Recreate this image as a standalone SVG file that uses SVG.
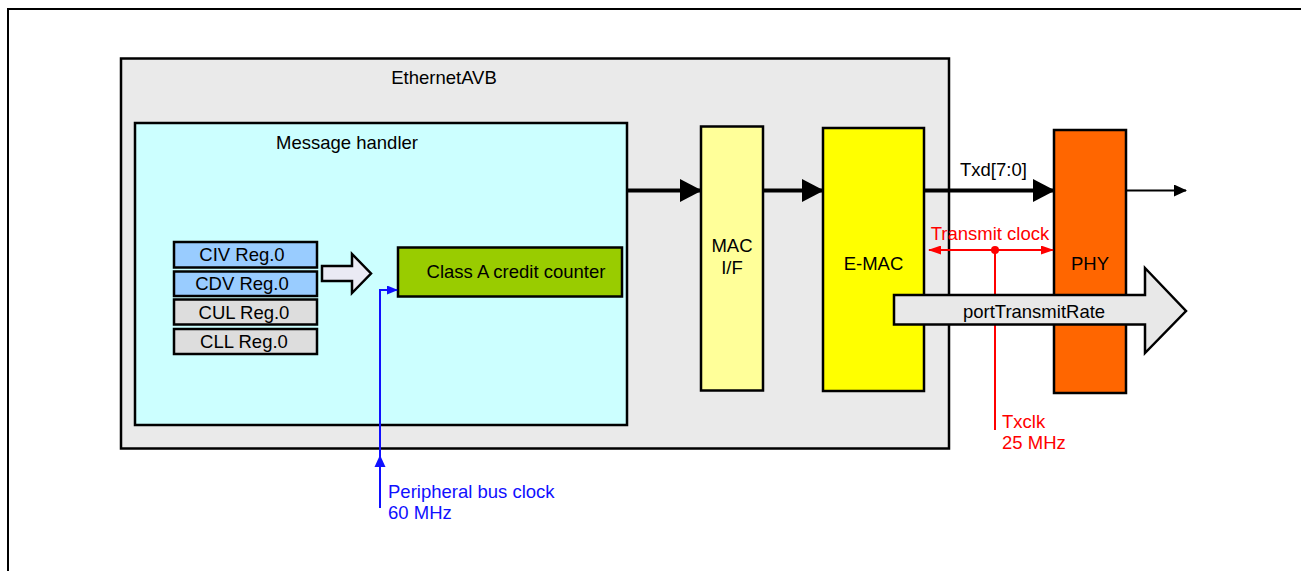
<svg xmlns="http://www.w3.org/2000/svg" width="1301" height="571" viewBox="0 0 1301 571">
<style>
text{font-family:"Liberation Sans",Arial,sans-serif;font-size:18.5px;fill:#000}
.box{stroke:#000;stroke-width:2.5}
.reg{stroke:#000;stroke-width:2.5}
.red{fill:#FF0000}
.blue{fill:#1010FF}
.c{text-anchor:middle}
</style>
<defs>
<marker id="bigArrow" markerWidth="22" markerHeight="23" refX="21" refY="11.5" orient="auto" markerUnits="userSpaceOnUse"><path d="M0,0 L22,11.5 L0,23 Z" fill="#000"/></marker>
<marker id="smallArrow" markerWidth="13" markerHeight="12" refX="12" refY="6" orient="auto" markerUnits="userSpaceOnUse"><path d="M0,0 L13,6 L0,12 Z" fill="#000"/></marker>
<marker id="redArrow" markerWidth="13" markerHeight="9" refX="12" refY="4.5" orient="auto-start-reverse" markerUnits="userSpaceOnUse"><path d="M0,0 L13,4.5 L0,9 Z" fill="#FF0000"/></marker>
<marker id="blueArrow" markerWidth="11" markerHeight="9" refX="10" refY="4.5" orient="auto" markerUnits="userSpaceOnUse"><path d="M0,0 L11,4.5 L0,9 Z" fill="#1010FF"/></marker>
</defs>
<rect width="1301" height="571" fill="#fff"/>
<path d="M8,571 V9 H1301" fill="none" stroke="#000" stroke-width="2"/>

<g id="ethernetavb">
<rect class="box" x="121" y="58.5" width="828" height="390" fill="#EAEAEA"/>
<text class="c" x="444" y="84">EthernetAVB</text>
</g>

<g id="message-handler">
<rect class="box" x="135" y="123" width="492" height="302" fill="#CCFFFF"/>
<text class="c" x="347" y="149">Message handler</text>
</g>

<g id="civ-reg"><rect class="reg" x="174" y="242" width="143" height="25.5" fill="#99CCFF"/><text class="c" x="242" y="261">CIV Reg.0</text></g>
<g id="cdv-reg"><rect class="reg" x="174" y="271.5" width="143" height="24.5" fill="#99CCFF"/><text class="c" x="242" y="290">CDV Reg.0</text></g>
<g id="cul-reg"><rect class="reg" x="174" y="299.5" width="143" height="25" fill="#DDDDDD"/><text class="c" x="244" y="318.5">CUL Reg.0</text></g>
<g id="cll-reg"><rect class="reg" x="174" y="329" width="143" height="25" fill="#DDDDDD"/><text class="c" x="244" y="347.5">CLL Reg.0</text></g>

<g id="reg-arrow">
<path d="M322,266 H352 V254 L371,273.5 L352,293 V281 H322 Z" fill="#EAEAF4" stroke="#000" stroke-width="2.5" stroke-linejoin="miter"/>
</g>

<g id="credit-counter">
<rect class="box" x="398" y="247.5" width="224" height="49" fill="#99CC00"/>
<text class="c" x="516" y="278">Class A credit counter</text>
</g>

<g id="mac-if">
<rect class="box" x="701" y="126.5" width="62" height="264" fill="#FFFF99"/>
<text class="c" x="732" y="252">MAC</text>
<text class="c" x="732" y="274">I/F</text>
</g>

<g id="e-mac">
<rect class="box" x="823" y="128" width="101" height="263" fill="#FFFF00"/>
<text class="c" x="873.5" y="270">E-MAC</text>
</g>

<g id="phy">
<rect class="box" x="1054" y="130" width="72" height="263" fill="#FF6600"/>
<text class="c" x="1090" y="270">PHY</text>
</g>

<g id="connectors">
<line x1="627" y1="190.5" x2="701" y2="190.5" stroke="#000" stroke-width="4" marker-end="url(#bigArrow)"/>
<line x1="763" y1="190.5" x2="823" y2="190.5" stroke="#000" stroke-width="4" marker-end="url(#bigArrow)"/>
<line x1="924" y1="190.5" x2="1054" y2="190.5" stroke="#000" stroke-width="4" marker-end="url(#bigArrow)"/>
<line x1="1126" y1="190.5" x2="1186" y2="190.5" stroke="#000" stroke-width="2" marker-end="url(#smallArrow)"/>
<text x="960" y="176">Txd[7:0]</text>

<line x1="929" y1="250" x2="1053" y2="250" stroke="#FF0000" stroke-width="2" marker-start="url(#redArrow)" marker-end="url(#redArrow)"/>
<line x1="995" y1="250" x2="995" y2="430" stroke="#FF0000" stroke-width="2"/>
<circle cx="995" cy="250" r="4" fill="#FF0000"/>
<text class="red c" x="990" y="240">Transmit clock</text>
<text class="red" x="1002" y="428">Txclk</text>
<text class="red" x="1002" y="449">25 MHz</text>

<path d="M380,508 V290 H397" fill="none" stroke="#1010FF" stroke-width="2" marker-end="url(#blueArrow)"/>
<path d="M380,455 L385.5,467 L374.5,467 Z" fill="#1010FF"/>
<text class="blue" x="388" y="498">Peripheral bus clock</text>
<text class="blue" x="388" y="519">60 MHz</text>
</g>

<g id="port-transmit-rate">
<path d="M894,295 H1145 V268 L1186,311 L1145,353 V324.5 H894 Z" fill="#E8E8E8" stroke="#000" stroke-width="2.5"/>
<text class="c" x="1034" y="318">portTransmitRate</text>
</g>
</svg>
